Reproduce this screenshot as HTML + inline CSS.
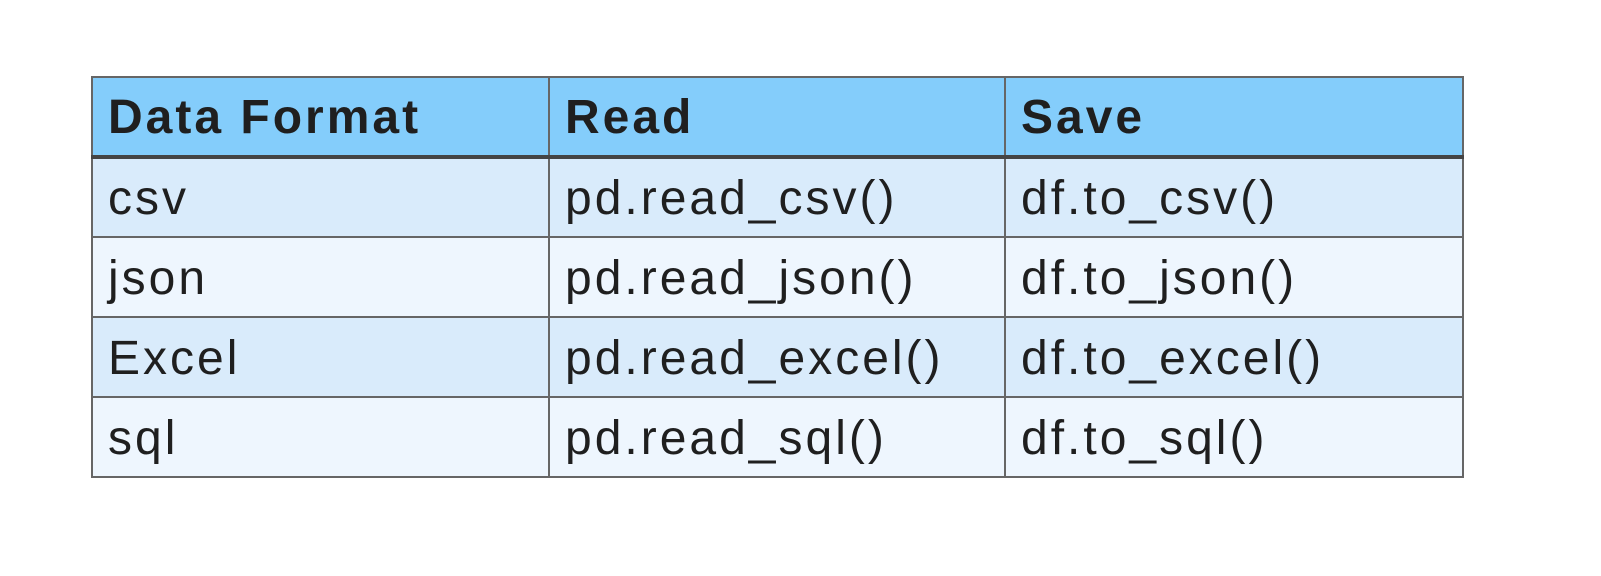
<!DOCTYPE html>
<html><head><style>
html,body{margin:0;padding:0;background:#fff;width:1601px;height:576px;overflow:hidden}
table{position:absolute;left:91px;top:76px;width:1371px;table-layout:fixed;border-collapse:collapse;font-family:"Liberation Sans",sans-serif;color:#1f1f1f}
td,th{border:2px solid #666;height:78px;box-sizing:border-box;padding:2px 0 0 15px;text-align:left;vertical-align:middle;font-size:48px;font-weight:normal;white-space:nowrap;letter-spacing:3px}
th{font-weight:bold;background:#84cdfb;border-bottom:4px solid #444;height:80px;letter-spacing:3px}
tr.a td{background:#d9ebfb}
tr.b td{background:#eef6fe}
tr{height:80px}
col.c1{width:457px}col.c2{width:456px}col.c3{width:458px}
</style></head><body>
<table>
<colgroup><col class="c1"><col class="c2"><col class="c3"></colgroup>
<tr><th>Data Format</th><th>Read</th><th>Save</th></tr>
<tr class="a"><td>csv</td><td>pd.read_csv()</td><td>df.to_csv()</td></tr>
<tr class="b"><td>json</td><td>pd.read_json()</td><td>df.to_json()</td></tr>
<tr class="a"><td>Excel</td><td>pd.read_excel()</td><td>df.to_excel()</td></tr>
<tr class="b"><td>sql</td><td>pd.read_sql()</td><td>df.to_sql()</td></tr>
</table>
</body></html>
